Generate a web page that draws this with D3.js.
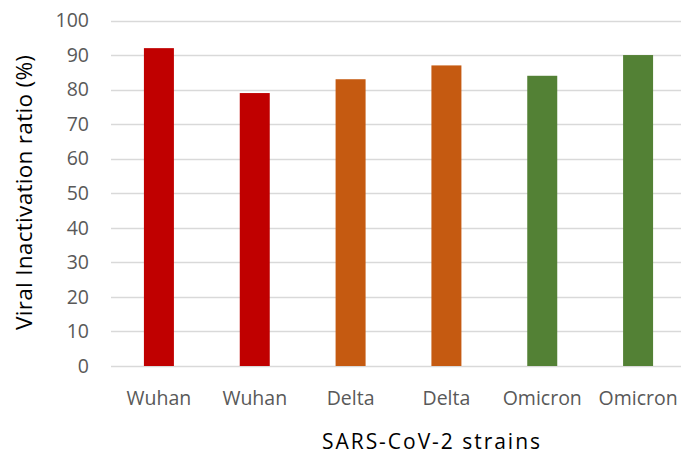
<!DOCTYPE html>
<html>
<head>
<meta charset="utf-8">
<script src="https://cdn.jsdelivr.net/npm/d3@7/dist/d3.min.js"></script>
<style>
  html, body { margin: 0; padding: 0; background: #fff; }
  svg { display: block; }
</style>
</head>
<body>
<svg id="chart" width="681" height="455"></svg>
<script>
// Strain labels, inactivation ratios (%) and bar colours
const strains = ["Wuhan", "Wuhan", "Delta", "Delta", "Omicron", "Omicron"];
const ratios = [92, 79, 83, 87, 84, 90];
const barColors = ["#C00000", "#C00000", "#C55A11", "#C55A11", "#538135", "#538135"];
const yTicks = [0, 10, 20, 30, 40, 50, 60, 70, 80, 90, 100];

const svg = d3.select("#chart");
const font = "'Open Sans', sans-serif";

const plot = { left: 111, right: 686, top: 20.5, bottom: 366 };

const x = d3.scaleBand()
  .domain(d3.range(strains.length))
  .range([plot.left, plot.right])
  .paddingInner(0.687)
  .paddingOuter(0.3435);

const y = d3.scaleLinear()
  .domain([0, 100])
  .range([plot.bottom, plot.top]);

// Horizontal gridlines
svg.append("g")
  .selectAll("line")
  .data(yTicks)
  .join("line")
  .attr("x1", plot.left)
  .attr("x2", plot.right)
  .attr("y1", d => Math.round(y(d)) + 0.5)
  .attr("y2", d => Math.round(y(d)) + 0.5)
  .attr("stroke", "#d9d9d9")
  .attr("stroke-width", 1.3);

// Y axis tick labels
const yAxis = d3.axisLeft(y).tickValues(yTicks).tickSize(0).tickPadding(0);
const gy = svg.append("g")
  .attr("transform", `translate(89,0)`)
  .call(yAxis);
gy.select(".domain").remove();
gy.selectAll("text")
  .attr("fill", "#595959")
  .style("font-family", font)
  .style("font-size", "19.5px");

// Bars
svg.append("g")
  .selectAll("rect")
  .data(ratios)
  .join("rect")
  .attr("x", (d, i) => x(i))
  .attr("width", x.bandwidth())
  .attr("y", d => y(d))
  .attr("height", d => y(0) - y(d))
  .attr("fill", (d, i) => barColors[i]);

// X axis category labels
const xAxis = d3.axisBottom(x).tickFormat(i => strains[i]).tickSize(0).tickPadding(0);
const gx = svg.append("g")
  .attr("transform", `translate(0,${plot.bottom})`)
  .call(xAxis);
gx.select(".domain").remove();
gx.selectAll("text")
  .attr("dy", null)
  .attr("y", 39)
  .attr("fill", "#595959")
  .style("font-family", font)
  .style("font-size", "19.5px");

// Axis titles
svg.append("text")
  .attr("x", 431)
  .attr("y", 449)
  .attr("text-anchor", "middle")
  .attr("textLength", 218)
  .attr("lengthAdjust", "spacing")
  .attr("fill", "#000")
  .style("font-family", font)
  .style("font-size", "21px")
  .text("SARS-CoV-2 strains");

svg.append("text")
  .attr("transform", "translate(32,192.5) rotate(-90)")
  .attr("text-anchor", "middle")
  .attr("textLength", 275)
  .attr("lengthAdjust", "spacing")
  .attr("fill", "#000")
  .style("font-family", font)
  .style("font-size", "22.5px")
  .text("Viral Inactivation ratio (%)");
</script>
</body>
</html>
